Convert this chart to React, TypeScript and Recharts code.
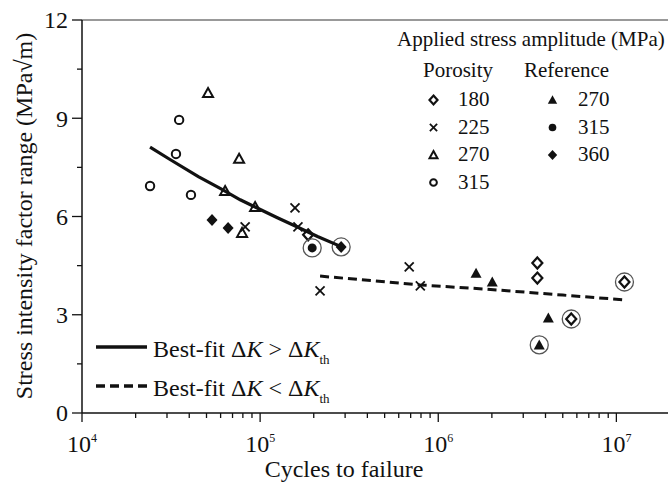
import React from 'react';
import { ScatterChart, Scatter, XAxis, YAxis, ReferenceLine } from 'recharts';

type Pt = { n: number; k: number; circled?: boolean };

// porosity specimens, by applied stress amplitude (MPa)
const porosity180: Pt[] = [
  { n: 186000, k: 5.44 },
  { n: 3600000, k: 4.58 },
  { n: 3600000, k: 4.12 },
  { n: 5580000, k: 2.87, circled: true },
  { n: 11100000, k: 4.0, circled: true },
];
const porosity225: Pt[] = [
  { n: 82400, k: 5.68 },
  { n: 157000, k: 6.26 },
  { n: 163000, k: 5.68 },
  { n: 217000, k: 3.73 },
  { n: 687000, k: 4.46 },
  { n: 793000, k: 3.88 },
];
const porosity270: Pt[] = [
  { n: 51000, k: 9.77 },
  { n: 76200, k: 7.76 },
  { n: 63600, k: 6.78 },
  { n: 93700, k: 6.29 },
  { n: 79200, k: 5.5 },
];
const porosity315: Pt[] = [
  { n: 24100, k: 6.93 },
  { n: 35100, k: 8.95 },
  { n: 33700, k: 7.91 },
  { n: 40900, k: 6.66 },
];

// reference specimens
const reference270: Pt[] = [
  { n: 1630000, k: 4.27 },
  { n: 2010000, k: 4.0 },
  { n: 4150000, k: 2.9 },
  { n: 3690000, k: 2.08, circled: true },
];
const reference315: Pt[] = [{ n: 196000, k: 5.04, circled: true }];
const reference360: Pt[] = [
  { n: 53700, k: 5.89 },
  { n: 66100, k: 5.65 },
  { n: 285000, k: 5.07, circled: true },
];

// best-fit curves
const fitAbove: Pt[] = [
  { n: 24100, k: 8.12 },
  { n: 31200, k: 7.74 },
  { n: 45000, k: 7.22 },
  { n: 60000, k: 6.85 },
  { n: 77300, k: 6.51 },
  { n: 93700, k: 6.29 },
  { n: 125000, k: 5.96 },
  { n: 163000, k: 5.67 },
  { n: 210000, k: 5.39 },
  { n: 285000, k: 5.08 },
];
const fitBelow: Pt[] = [
  { n: 217000, k: 4.18 },
  { n: 793000, k: 3.91 },
  { n: 1880000, k: 3.78 },
  { n: 5000000, k: 3.6 },
  { n: 11400000, k: 3.45 },
];

const porosityLevels = ['180', '225', '270', '315'];
const referenceLevels = ['270', '315', '360'];
const porosityKinds = ['diamondOpen', 'cross', 'triangleOpen', 'circleOpen'];
const referenceKinds = ['triangle', 'circle', 'diamond'];

const xDecades = [1e4, 1e5, 1e6, 1e7];
const xMinorSteps = [2, 3, 4, 5, 6, 7, 8, 9];
const xTicks = [...xDecades, ...xDecades.flatMap((d) => xMinorSteps.map((m) => m * d))].filter((v) => v <= 2e7);
const yTicks = [0, 1.5, 3, 4.5, 6, 7.5, 9, 10.5, 12];
const yLabels = [0, 3, 6, 9, 12];

const INK = '#111';
const FONT = "'Liberation Serif', 'Times New Roman', serif";

const Marker = ({ kind, cx, cy, s = 1 }: { kind: string; cx: number; cy: number; s?: number }) => {
  switch (kind) {
    case 'diamondOpen':
      return <polygon points={`${cx},${cy - 5.5 * s} ${cx + 5 * s},${cy} ${cx},${cy + 5.5 * s} ${cx - 5 * s},${cy}`} fill="none" stroke={INK} strokeWidth={2.2} />;
    case 'diamond':
      return <polygon points={`${cx},${cy - 6 * s} ${cx + 5.5 * s},${cy} ${cx},${cy + 6 * s} ${cx - 5.5 * s},${cy}`} fill={INK} />;
    case 'cross':
      return (
        <g stroke={INK} strokeWidth={1.8}>
          <line x1={cx - 4.5 * s} y1={cy - 4.5 * s} x2={cx + 4.5 * s} y2={cy + 4.5 * s} />
          <line x1={cx - 4.5 * s} y1={cy + 4.5 * s} x2={cx + 4.5 * s} y2={cy - 4.5 * s} />
        </g>
      );
    case 'triangleOpen':
      return <polygon points={`${cx},${cy - 5 * s} ${cx + 5 * s},${cy + 4 * s} ${cx - 5 * s},${cy + 4 * s}`} fill="none" stroke={INK} strokeWidth={2} strokeLinejoin="miter" />;
    case 'triangle':
      return <polygon points={`${cx},${cy - 5.5 * s} ${cx + 5.5 * s},${cy + 4.5 * s} ${cx - 5.5 * s},${cy + 4.5 * s}`} fill={INK} />;
    case 'circleOpen':
      return <circle cx={cx} cy={cy} r={4.2 * s} fill="none" stroke={INK} strokeWidth={2} />;
    case 'circle':
      return <circle cx={cx} cy={cy} r={4.5 * s} fill={INK} />;
    default:
      return null;
  }
};

const shapeFor = (kind: string) => (p: any) => (
  <g>
    {p.payload && p.payload.circled && <circle cx={p.cx} cy={p.cy} r={9} fill="none" stroke="#555" strokeWidth={1.3} />}
    <Marker kind={kind} cx={p.cx} cy={p.cy} />
  </g>
);

const XTick = (p: any) => {
  const v = p.payload.value;
  const major = xDecades.includes(v);
  return (
    <g>
      <line x1={p.x} x2={p.x} y1={p.y} y2={p.y + (major ? 9 : 5)} stroke={INK} strokeWidth={1.3} />
      {major && (
        <text x={p.x} y={p.y + 39} textAnchor="middle" fontFamily={FONT} fontSize={24} fill={INK}>
          10
          <tspan dy={-10} fontSize={12}>{Math.round(Math.log10(v))}</tspan>
        </text>
      )}
    </g>
  );
};

const YTick = (p: any) => {
  const v = p.payload.value;
  const major = yLabels.includes(v);
  return (
    <g>
      <line x1={p.x} x2={p.x - (major ? 10 : 5)} y1={p.y} y2={p.y} stroke={INK} strokeWidth={1.3} />
      {major && (
        <text x={p.x - 14} y={p.y} dy="0.35em" textAnchor="end" fontFamily={FONT} fontSize={24} fill={INK}>
          {v}
        </text>
      )}
    </g>
  );
};

const series = [
  { data: porosity180, kind: porosityKinds[0] },
  { data: porosity225, kind: porosityKinds[1] },
  { data: porosity270, kind: porosityKinds[2] },
  { data: porosity315, kind: porosityKinds[3] },
  { data: reference270, kind: referenceKinds[0] },
  { data: reference315, kind: referenceKinds[1] },
  { data: reference360, kind: referenceKinds[2] },
];

const App: React.FC = () => {
  return (
    <div style={{ position: 'absolute', left: 0, top: 0, width: 668, height: 482, overflow: 'hidden', background: '#fff' }}>
      <ScatterChart width={680} height={482} margin={{ top: 20, right: 10, bottom: 0, left: 0 }}>
        <XAxis
          type="number"
          dataKey="n"
          scale="log"
          domain={[1e4, 2e7]}
          allowDataOverflow
          ticks={xTicks}
          interval={0}
          tick={XTick}
          tickLine={false}
          tickSize={0}
          tickMargin={0}
          axisLine={{ stroke: INK, strokeWidth: 1.5 }}
          height={69}
        />
        <YAxis
          type="number"
          dataKey="k"
          domain={[0, 12]}
          ticks={yTicks}
          interval={0}
          tick={YTick}
          tickLine={false}
          tickSize={0}
          tickMargin={0}
          axisLine={{ stroke: INK, strokeWidth: 1.5 }}
          width={82}
        />
        <ReferenceLine y={12} stroke="#777" strokeWidth={1.5} />
        {series.map((s, i) => (
          <Scatter key={i} data={s.data} shape={shapeFor(s.kind)} isAnimationActive={false} />
        ))}
        <Scatter data={fitAbove} line={{ stroke: INK, strokeWidth: 3.2 }} lineType="joint" shape={() => <g />} isAnimationActive={false} />
        <Scatter data={fitBelow} line={{ stroke: INK, strokeWidth: 3, strokeDasharray: '9 5' }} lineType="joint" shape={() => <g />} isAnimationActive={false} />
      </ScatterChart>

      <svg width={668} height={482} style={{ position: 'absolute', left: 0, top: 0, pointerEvents: 'none' }} fontFamily={FONT} fill={INK}>
        {/* axis titles */}
        <text transform="translate(32,216) rotate(-90)" textAnchor="middle" fontSize={24}>
          Stress intensity factor range (MPa√m)
        </text>
        <text x={344} y={477} textAnchor="middle" fontSize={24}>
          Cycles to failure
        </text>

        {/* stress amplitude legend */}
        <text x={397} y={46} fontSize={21}>Applied stress amplitude (MPa)</text>
        <text x={423} y={77} fontSize={21}>Porosity</text>
        <text x={524} y={77} fontSize={21}>Reference</text>
        {porosityLevels.map((lv, i) => (
          <g key={'p' + i}>
            <Marker kind={porosityKinds[i]} cx={433.5} cy={100 + i * 27.5} s={0.8} />
            <text x={458} y={106 + i * 27.5} fontSize={21}>{lv}</text>
          </g>
        ))}
        {referenceLevels.map((lv, i) => (
          <g key={'r' + i}>
            <Marker kind={referenceKinds[i]} cx={552.5} cy={100 + i * 27.5} s={0.85} />
            <text x={578} y={106 + i * 27.5} fontSize={21}>{lv}</text>
          </g>
        ))}

        {/* best-fit legend */}
        <line x1={96} x2={147} y1={347} y2={347} stroke={INK} strokeWidth={3.3} />
        <text x={153} y={357} fontSize={24}>
          Best-fit Δ<tspan fontStyle="italic">K</tspan> &gt; Δ<tspan fontStyle="italic">K</tspan>
          <tspan dy={7} fontSize={13}>th</tspan>
        </text>
        <line x1={96} x2={147} y1={386} y2={386} stroke={INK} strokeWidth={3.3} strokeDasharray="9 5" />
        <text x={153} y={396} fontSize={24}>
          Best-fit Δ<tspan fontStyle="italic">K</tspan> &lt; Δ<tspan fontStyle="italic">K</tspan>
          <tspan dy={7} fontSize={13}>th</tspan>
        </text>
      </svg>
    </div>
  );
};

export default App;
